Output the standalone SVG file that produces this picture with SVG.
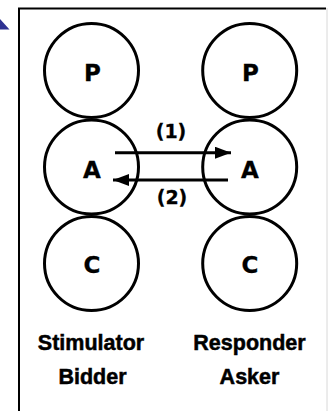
<svg xmlns="http://www.w3.org/2000/svg" width="328" height="411" viewBox="0 0 328 411">
<defs>
<style>
.c{fill:#fff;stroke:#000;stroke-width:3}
.t{font-family:"Liberation Sans",Arial,sans-serif;font-weight:bold;fill:#000;stroke:#000;stroke-width:0.5;text-anchor:middle}
.w{font-family:"DejaVu Sans","Liberation Sans",sans-serif;stroke-width:0.3}
.cn{stroke:#000;stroke-width:3;fill:none}
</style>
<marker id="ah" markerUnits="userSpaceOnUse" markerWidth="16" markerHeight="12" refX="16" refY="6" orient="auto">
<path d="M0,0 L16,6 L0,12 Z" fill="#000"/>
</marker>
</defs>
<rect width="328" height="411" fill="#fff"/>
<polygon points="0,19 9.5,29.5 0,29.5" fill="#2e3192"/>
<path d="M19,411 V8.5 H326" fill="none" stroke="#000" stroke-width="2"/>
<line x1="327" y1="8" x2="327" y2="411" stroke="#d8d8d8" stroke-width="1"/>
<g id="P1"><circle class="c" cx="91.5" cy="70.5" r="47"/><text class="t w" font-size="23" x="92.5" y="81">P</text></g>
<g id="A1"><circle class="c" cx="91.5" cy="167" r="47"/><text class="t w" font-size="23" x="92" y="177.5">A</text></g>
<g id="C1"><circle class="c" cx="91.5" cy="263.5" r="47"/><text class="t w" font-size="23" x="92" y="273">C</text></g>
<g id="P2"><circle class="c" cx="249.7" cy="70.5" r="47"/><text class="t w" font-size="23" x="250.5" y="81">P</text></g>
<g id="A2"><circle class="c" cx="249.7" cy="167" r="47"/><text class="t w" font-size="23" x="250" y="177.5">A</text></g>
<g id="C2"><circle class="c" cx="249.7" cy="263.5" r="47"/><text class="t w" font-size="23" x="250" y="273">C</text></g>
<g id="connectors">
<line class="cn" x1="115" y1="152.7" x2="231" y2="152.7" marker-end="url(#ah)"/>
<line class="cn" x1="228" y1="180" x2="113" y2="180" marker-end="url(#ah)"/>
<text class="t w" font-size="19" x="171" y="138">(1)</text>
<text class="t w" font-size="19" x="172" y="204">(2)</text>
</g>
<g id="labels">
<text class="t" font-size="21.5" x="91" y="349.5">Stimulator</text>
<text class="t" font-size="21.5" x="92.5" y="383.5">Bidder</text>
<text class="t" font-size="21.5" x="249.5" y="349.5">Responder</text>
<text class="t" font-size="21.5" x="249.5" y="383.5">Asker</text>
</g>
</svg>
